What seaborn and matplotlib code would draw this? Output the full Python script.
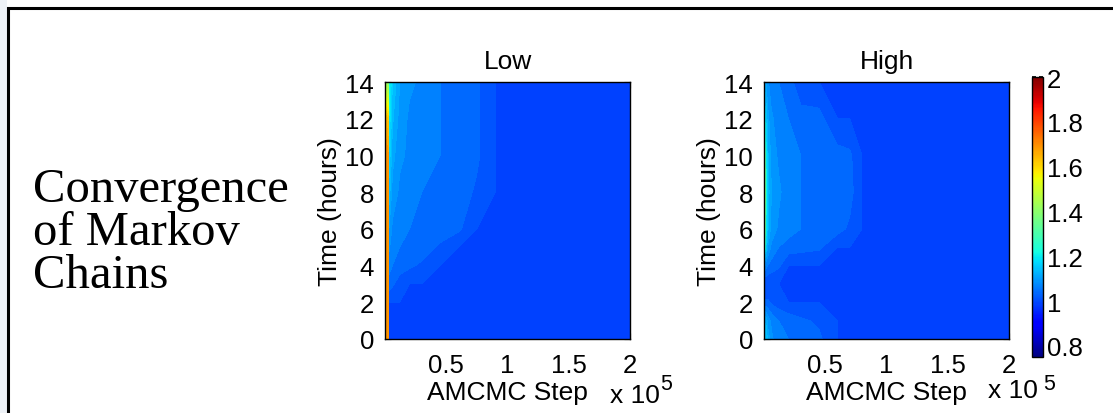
import numpy as np
import matplotlib.pyplot as plt
import seaborn as sns
from matplotlib.patches import Rectangle

# grid: time (rows) x AMCMC step (cols)
hours = [0, 1, 2, 3, 4, 5, 6, 8, 10, 12, 14]
steps_low = [0, 2500, 3200, 6000, 12000, 20000, 30000, 45000, 60000, 75000, 90000, 200000]
steps_high = [0, 1500, 3000, 6000, 12000, 20000, 30000, 45000, 60000, 70000, 80000, 200000]

# convergence statistic
low = [
    [1.70, 1.70, 1.00, 1.00, 1.00, 1.00, 1.00, 1.00, 1.00, 1.00, 1.00, 1.00],
    [1.70, 1.70, 1.00, 1.00, 1.00, 1.00, 1.00, 1.00, 1.00, 1.00, 1.00, 1.00],
    [1.70, 1.70, 1.00, 1.00, 1.00, 1.00, 1.00, 1.00, 1.00, 1.00, 1.00, 1.00],
    [1.70, 1.70, 1.04, 1.03, 1.01, 1.00, 1.00, 1.00, 1.00, 1.00, 1.00, 1.00],
    [1.70, 1.70, 1.06, 1.05, 1.04, 1.03, 1.02, 1.00, 1.00, 1.00, 1.00, 1.00],
    [1.70, 1.70, 1.08, 1.06, 1.05, 1.04, 1.04, 1.02, 1.00, 1.00, 1.00, 1.00],
    [1.70, 1.70, 1.10, 1.07, 1.06, 1.05, 1.05, 1.04, 1.03, 1.00, 1.00, 1.00],
    [1.70, 1.70, 1.14, 1.09, 1.07, 1.06, 1.05, 1.05, 1.04, 1.02, 1.00, 1.00],
    [1.70, 1.68, 1.17, 1.11, 1.08, 1.07, 1.06, 1.05, 1.04, 1.03, 1.00, 1.00],
    [1.66, 1.62, 1.20, 1.13, 1.09, 1.07, 1.06, 1.05, 1.04, 1.03, 1.00, 1.00],
    [1.42, 1.40, 1.22, 1.15, 1.10, 1.08, 1.07, 1.05, 1.04, 1.03, 1.00, 1.00],
]
high = [
    [1.05, 1.15, 1.12, 1.08, 1.06, 1.05, 1.04, 1.03, 1.00, 1.00, 1.00, 1.00],
    [1.03, 1.12, 1.09, 1.07, 1.05, 1.04, 1.03, 1.02, 1.00, 1.00, 1.00, 1.00],
    [1.00, 1.03, 1.03, 1.02, 1.01, 1.00, 1.00, 1.00, 1.00, 1.00, 1.00, 1.00],
    [0.98, 1.00, 1.00, 1.00, 1.00, 1.00, 1.00, 1.00, 1.00, 1.00, 1.00, 1.00],
    [1.10, 1.06, 1.05, 1.04, 1.03, 1.00, 1.00, 1.00, 1.00, 1.00, 1.00, 1.00],
    [1.35, 1.15, 1.10, 1.07, 1.05, 1.04, 1.035, 1.03, 1.00, 1.00, 1.00, 1.00],
    [1.50, 1.20, 1.13, 1.09, 1.07, 1.06, 1.05, 1.04, 1.035, 1.02, 1.00, 1.00],
    [1.52, 1.22, 1.14, 1.10, 1.08, 1.06, 1.05, 1.04, 1.035, 1.035, 1.00, 1.00],
    [1.45, 1.20, 1.13, 1.09, 1.07, 1.06, 1.05, 1.04, 1.035, 1.03, 1.00, 1.00],
    [1.25, 1.15, 1.11, 1.08, 1.06, 1.05, 1.04, 1.035, 1.00, 1.00, 1.00, 1.00],
    [1.12, 1.10, 1.08, 1.06, 1.05, 1.04, 1.00, 1.00, 1.00, 1.00, 1.00, 1.00],
]
titles = ['Low', 'High']
xticks = [0.5e5, 1e5, 1.5e5, 2e5]
xticklabels = ['0.5', '1', '1.5', '2']
yticks = [0, 2, 4, 6, 8, 10, 12, 14]
cbticks = [0.8, 1, 1.2, 1.4, 1.6, 1.8, 2]
cblabels = ['0.8', '1', '1.2', '1.4', '1.6', '1.8', '2']

sns.set_theme(style='ticks')
plt.rcParams['font.family'] = ['Liberation Sans', 'DejaVu Sans']
for k in ['text.color', 'axes.labelcolor', 'xtick.color', 'ytick.color', 'axes.edgecolor']:
    plt.rcParams[k] = 'black'

fig = plt.figure(figsize=(11.13, 4.14), dpi=100)
W, H = 1113, 414

# slide frame
fig.patches.append(Rectangle((0, 0), 7/W, 1, transform=fig.transFigure,
                             facecolor='#eef2f7', edgecolor='none'))
fig.patches.append(Rectangle((8/W, -0.1), 1.2, 1.1 - 9/H, transform=fig.transFigure,
                             facecolor='none', edgecolor='black', linewidth=2.2))

# slide heading
for txt, yb in zip(['Convergence', 'of Markov', 'Chains'], [202, 245, 288]):
    fig.text(33/W, 1 - yb/H, txt, family=['Liberation Serif'], fontsize=35,
             va='baseline', ha='left')

levels = np.arange(0.75, 2.0001, 0.025)
lefts = [385/W, 764/W]
for i, (st, vals, title) in enumerate(zip([steps_low, steps_high], [low, high], titles)):
    ax = fig.add_axes([lefts[i], 74/H, 245/W, 257/H])
    X, Y = np.meshgrid(st, hours)
    ax.contourf(X, Y, np.array(vals), levels=levels, cmap='jet', vmin=0.75, vmax=2,
                antialiased=False)
    ax.set_xlim(0, 2e5)
    ax.set_ylim(0, 14)
    ax.set_xticks(xticks)
    ax.set_xticklabels(xticklabels)
    ax.set_yticks(yticks)
    ax.tick_params(direction='in', top=True, right=True, length=4, width=0.8,
                   labelsize=18.5, color='black')
    ax.tick_params(axis='y', pad=8)
    ax.tick_params(axis='x', pad=10)
    for s in ax.spines.values():
        s.set_linewidth(1.0)
    ax.set_title(title, fontsize=19, pad=10)
    ax.set_xlabel('AMCMC Step', fontsize=19, labelpad=2)
    ax.set_ylabel('Time (hours)', fontsize=19, labelpad=2)

# x 10^5 multipliers
fig.text(610/W, 1 - 403/H, 'x 10', fontsize=19, va='baseline')
fig.text(660/W, 1 - 390/H, '5', fontsize=15.5, va='baseline')
fig.text(988/W, 1 - 398/H, 'x 10', fontsize=19, va='baseline')
fig.text(1043/W, 1 - 390/H, '5', fontsize=15.5, va='baseline')

cax = fig.add_axes([1032/W, 56/H, 11/W, 280/H])
sm = plt.cm.ScalarMappable(cmap='jet', norm=plt.Normalize(0.75, 2))
cb = fig.colorbar(sm, cax=cax, ticks=cbticks)
cb.ax.set_yticklabels(cblabels)
cb.ax.tick_params(direction='in', length=3, labelsize=18.5, left=True, right=True, pad=3)
cb.outline.set_linewidth(1.0)
cb.outline.set_edgecolor('black')

fig.savefig('out.png', dpi=100)
